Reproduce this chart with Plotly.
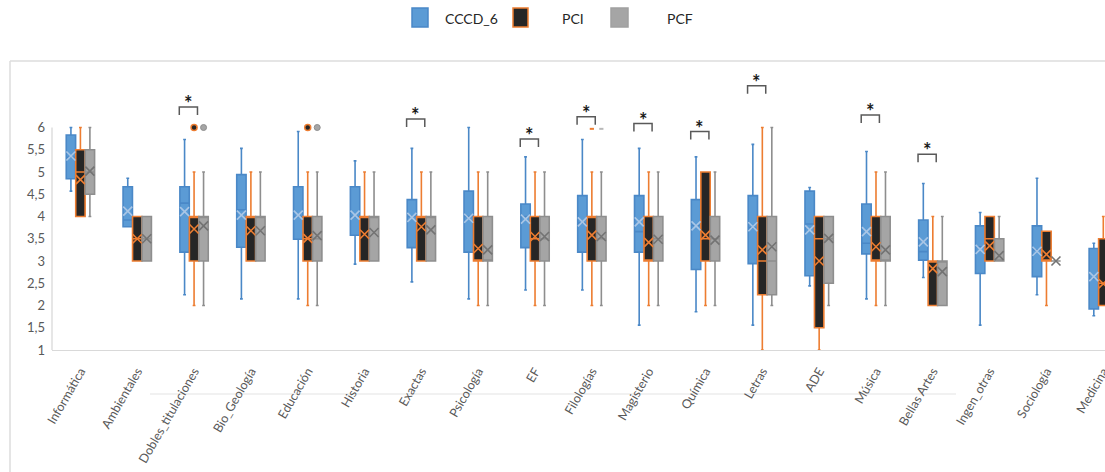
import plotly.graph_objects as go

categories = ["Informática", "Ambientales", "Dobles_titulaciones", "Bio_Geología", "Educación",
              "Historia", "Exactas", "Psicología", "EF", "Filologías", "Magisterio", "Química",
              "Letras", "ADE", "Música", "Bellas Artes", "Ingen_otras", "Sociología", "Medicina"]

# CCCD_6
c_low = [4.57, 3.77, 2.24, 2.15, 2.15, 2.93, 2.53, 2.15, 2.35, 2.35, 1.56, 1.86, 1.56, 2.44, 2.15, 2.63, 1.56, 2.24, 1.77]
c_q1 = [4.85, 3.77, 3.20, 3.31, 3.49, 3.58, 3.30, 3.20, 3.30, 3.20, 3.20, 2.81, 2.94, 2.67, 3.16, 3.02, 2.72, 2.65, 1.92]
c_med = [5.33, 3.92, 4.30, 4.15, 4.00, 4.00, 4.00, 4.00, 4.00, 3.85, 3.66, 3.80, 3.75, 3.83, 3.40, 3.21, 3.32, 3.25, 2.60]
c_q3 = [5.83, 4.67, 4.67, 4.94, 4.67, 4.67, 4.38, 4.57, 4.28, 4.47, 4.47, 4.38, 4.47, 4.57, 4.28, 3.92, 3.79, 3.79, 3.28]
c_high = [6.00, 4.86, 5.73, 5.53, 5.91, 5.25, 5.53, 6.00, 5.34, 5.73, 5.53, 5.34, 5.62, 4.65, 5.46, 4.74, 4.09, 4.86, 3.40]
c_mean = [5.36, 4.12, 4.11, 4.03, 4.03, 4.03, 3.98, 3.96, 3.94, 3.88, 3.88, 3.79, 3.77, 3.70, 3.66, 3.43, 3.26, 3.22, 2.65]

# PCI
i_low = [4, 3, 2, 3, 2, 3, 3, 2, 2, 2, 2, 2, 1, 1, 2, 2, 3, 2, 2]
i_q1 = [4, 3, 3, 3, 3, 3, 3, 3, 3, 3, 3, 3, 2.24, 1.5, 3, 2, 3, 3, 2]
i_med = [5, 3.5, 4, 4, 3.5, 4, 4, 3, 3.5, 4, 3, 3.5, 3, 3.5, 3, 3, 3.5, 3, 2.5]
i_q3 = [5.5, 4, 4, 4, 4, 4, 4, 4, 4, 4, 4, 5, 4, 4, 4, 3, 4, 3.67, 3.5]
i_high = [6, 4, 5, 5, 5, 5, 5, 5, 5, 5, 5, 5, 6, 4, 5, 4, 4, 3.67, 4]
i_mean = [4.83, 3.50, 3.72, 3.68, 3.51, 3.60, 3.77, 3.28, 3.55, 3.58, 3.42, 3.58, 3.25, 3.00, 3.32, 2.83, 3.34, 3.15, 2.49]

# PCF
f_low = [4, 3, 2, 3, 2, 3, 3, 2, 2, 2, 2, 2, 2, 2, 2, 2, 3, 3, 2]
f_q1 = [4.5, 3, 3, 3, 3, 3, 3, 3, 3, 3, 3, 3, 2.24, 2.5, 3, 2, 3, 3, 2]
f_med = [5, 3.5, 4, 4, 3.5, 4, 4, 3, 3.5, 3.5, 3.5, 3.5, 3, 3.5, 3, 3, 3, 3, 3]
f_q3 = [5.5, 4, 4, 4, 4, 4, 4, 4, 4, 4, 4, 4, 4, 4, 4, 3, 3.5, 3, 3.5]
f_high = [6, 4, 5, 5, 5, 5, 5, 5, 5, 5, 5, 5, 6, 4, 5, 4, 4, 3, 4]
f_mean = [5.02, 3.50, 3.79, 3.68, 3.57, 3.64, 3.70, 3.25, 3.55, 3.55, 3.49, 3.47, 3.32, 3.51, 3.25, 2.76, 3.12, 3.00, 2.70]

# outliers
out_cats = ["Dobles_titulaciones", "Educación"]
out_pci = [6, 6]
out_pcf = [6, 6]
faint_out_cats = ["Filologías"]
faint_out_pci = [5.97]
faint_out_pcf = [5.97]

# significance brackets (top of bracket, data units)
sig_cats = ["Dobles_titulaciones", "Exactas", "EF", "Filologías", "Magisterio", "Química", "Letras", "Música", "Bellas Artes"]
sig_top = [6.46, 6.19, 5.74, 6.24, 6.09, 5.91, 6.94, 6.28, 5.40]

y_tickvals = [1, 1.5, 2, 2.5, 3, 3.5, 4, 4.5, 5, 5.5, 6]
y_ticktext = ["1", "1,5", "2", "2,5", "3", "3,5", "4", "4,5", "5", "5,5", "6"]

series_names = ["CCCD_6", "PCI", "PCF"]

# ---- layout constants ----
W, H = 1105, 472
ML, MR, MT, MB = 52, 0, 70, 122
PW, PH = W - ML - MR, H - MT - MB
FONT = "Lato"
OFF = 0.167
BW = 0.165

def pxx(x):
    return (x - ML) / PW

def pxy(y):
    return (H - MB - y) / PH

idx = {c: k for k, c in enumerate(categories)}
xs = list(range(len(categories)))

fig = go.Figure()

styles = [
    dict(fill="#5b9bd5", line="#4a88c7", mean="#a9c6e6", off=-OFF),
    dict(fill="#262626", line="#ed7d31", mean="#ed7d31", off=0.0),
    dict(fill="#a5a5a5", line="#8e8e8e", mean="#737373", off=OFF),
]
data = [
    (c_low, c_q1, c_med, c_q3, c_high, c_mean),
    (i_low, i_q1, i_med, i_q3, i_high, i_mean),
    (f_low, f_q1, f_med, f_q3, f_high, f_mean),
]

for name, st, (lo, q1, med, q3, hi, mn) in zip(series_names, styles, data):
    pos = [x + st["off"] for x in xs]
    fig.add_trace(go.Box(
        x=pos, q1=q1, median=med, q3=q3, lowerfence=lo, upperfence=hi,
        width=BW, whiskerwidth=0.3, fillcolor=st["fill"],
        line=dict(color=st["line"], width=1.6), boxpoints=False,
        name=name, showlegend=False, hoverinfo="skip"))
    fig.add_trace(go.Scatter(
        x=pos, y=mn, mode="markers",
        marker=dict(symbol="x-thin", size=9, line=dict(color=st["mean"], width=1.6)),
        showlegend=False, hoverinfo="skip"))

# outliers
fig.add_trace(go.Scatter(x=[idx[c] for c in out_cats], y=out_pci, mode="markers",
                         marker=dict(size=6, color="#262626", line=dict(color="#ed7d31", width=1.5)),
                         showlegend=False, hoverinfo="skip"))
fig.add_trace(go.Scatter(x=[idx[c] + OFF for c in out_cats], y=out_pcf, mode="markers",
                         marker=dict(size=6, color="#a5a5a5", line=dict(color="#8e8e8e", width=1)),
                         showlegend=False, hoverinfo="skip"))
fig.add_trace(go.Scatter(x=[idx[c] for c in faint_out_cats], y=faint_out_pci, mode="markers",
                         marker=dict(symbol="line-ew", size=3, line=dict(color="#ed7d31", width=2)),
                         showlegend=False, hoverinfo="skip"))
fig.add_trace(go.Scatter(x=[idx[c] + OFF for c in faint_out_cats], y=faint_out_pcf, mode="markers",
                         marker=dict(symbol="line-ew", size=3, line=dict(color="#b8b8b8", width=2)),
                         showlegend=False, hoverinfo="skip"))

shapes = []
annotations = []
LEG = 0.18
for c, top in zip(sig_cats, sig_top):
    x0 = idx[c] - 0.26
    x1 = idx[c] + 0.06
    shapes.append(dict(type="path", xref="x", yref="y",
                       path=f"M {x0},{top - LEG} L {x0},{top} L {x1},{top} L {x1},{top - LEG}",
                       line=dict(color="#595959", width=1.5)))
    annotations.append(dict(x=(x0 + x1) / 2, y=top, xref="x", yref="y", text="<b>*</b>",
                            showarrow=False, yanchor="bottom", yshift=-10,
                            font=dict(family=FONT, size=20, color="#1a1a1a")))

# y axis line from 1 to 6
shapes.append(dict(type="line", xref="paper", yref="y", x0=0, x1=0, y0=1, y1=6,
                   line=dict(color="#d9d9d9", width=1.3)))
# outer chart frame (left and top)
shapes.append(dict(type="line", xref="paper", yref="paper", x0=pxx(10), x1=pxx(10),
                   y0=pxy(61), y1=pxy(H + 5), line=dict(color="#dcdcdc", width=1.5)))
shapes.append(dict(type="line", xref="paper", yref="paper", x0=pxx(10), x1=pxx(W + 5),
                   y0=pxy(61), y1=pxy(61), line=dict(color="#dcdcdc", width=1.5)))
# faint line among the category labels
shapes.append(dict(type="line", xref="paper", yref="paper", x0=pxx(150), x1=pxx(956),
                   y0=pxy(394), y1=pxy(394), line=dict(color="#ececec", width=1.5), layer="below"))

# custom legend
leg_items = [
    ("CCCD_6", 412, 428, 443, "#5b9bd5", "#4a88c7"),
    ("PCI", 513, 528, 560, "#262626", "#ed7d31"),
    ("PCF", 611, 628, 665, "#a5a5a5", "#a0a0a0"),
]
for name, x0, x1, tx, fc, lc in leg_items:
    shapes.append(dict(type="rect", xref="paper", yref="paper",
                       x0=pxx(x0), x1=pxx(x1), y0=pxy(27), y1=pxy(8),
                       fillcolor=fc, line=dict(color=lc, width=1.5)))
    annotations.append(dict(x=pxx(tx), y=pxy(18), xref="paper", yref="paper", text=name,
                            showarrow=False, xanchor="left", yanchor="middle",
                            font=dict(family=FONT, size=14, color="#262626")))

fig.update_layout(
    template="none",
    width=W, height=H,
    margin=dict(l=ML, r=MR, t=MT, b=MB, pad=0),
    paper_bgcolor="white", plot_bgcolor="white",
    separators=",.",
    showlegend=False,
    boxmode="overlay",
    shapes=shapes,
    annotations=annotations,
    xaxis=dict(range=[-0.5, 18.03], tickvals=xs, ticktext=categories, tickangle=-60,
               showgrid=False, zeroline=False, showline=True, linecolor="#d9d9d9", linewidth=1.3,
               ticks="", ticklabelstandoff=8, automargin=False, ticklabeloverflow="allow",
               tickfont=dict(family=FONT, size=12.5, color="#595959")),
    yaxis=dict(range=[1, 1 + PH / 44.5], tickvals=y_tickvals, ticktext=y_ticktext,
               showgrid=False, zeroline=False, showline=False, ticks="", ticklabelstandoff=6,
               automargin=False, tickfont=dict(family=FONT, size=13, color="#595959")),
)

fig.write_html("out.html", config={"displayModeBar": False})

# remove the default page margin so the figure sits at the window origin
with open("out.html", "r", encoding="utf-8") as fh:
    html = fh.read()
html = html.replace("<head>", "<head><style>html,body{margin:0;padding:0;overflow:hidden;}</style>", 1)
with open("out.html", "w", encoding="utf-8") as fh:
    fh.write(html)
